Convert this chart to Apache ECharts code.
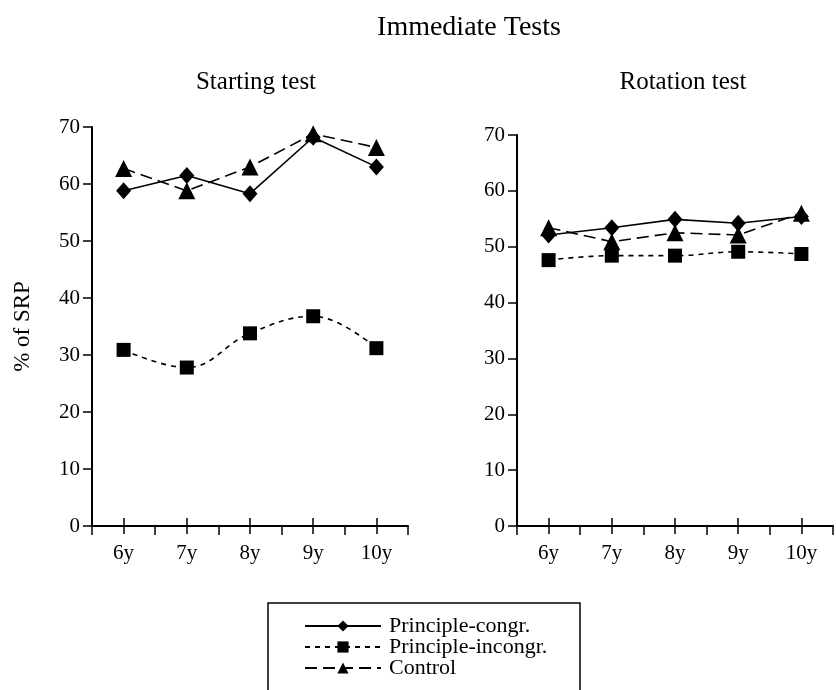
<!DOCTYPE html>
<html>
<head>
<meta charset="utf-8">
<script src="https://cdn.jsdelivr.net/npm/echarts@6/dist/echarts.min.js"></script>
<style>
  html, body { margin: 0; padding: 0; background: #fff; }
  #chart { width: 836px; height: 690px; }
</style>
</head>
<body>
<div id="chart"></div>
<script>
// ages on x axis
const ages = ['6y', '7y', '8y', '9y', '10y'];
const seriesNames = ['Principle-congr.', 'Principle-incongr.', 'Control'];

// Starting test
const startCongr = [58.8, 61.5, 58.3, 68.2, 63.0];
const startIncongr = [30.9, 27.8, 33.8, 36.8, 31.2];
const startControl = [62.7, 58.8, 63.0, 68.8, 66.4];

// Rotation test
const rotCongr = [52.1, 53.4, 54.9, 54.2, 55.4];
const rotIncongr = [47.6, 48.4, 48.4, 49.1, 48.7];
const rotControl = [53.4, 50.9, 52.5, 52.1, 56.0];

const FONT = '"Liberation Serif", "DejaVu Serif", serif';

const chart = echarts.init(document.getElementById('chart'));

function xAxes(gridIndex) {
  // labels + category ticks (down), boundary ticks (down), category ticks (up)
  return [
    {
      type: 'category', gridIndex, position: 'bottom', data: ages, boundaryGap: true,
      axisLine: { lineStyle: { color: '#000', width: 2 } },
      axisTick: { show: true, alignWithLabel: true, interval: 0, length: 8, lineStyle: { color: '#000', width: 1.5 } },
      axisLabel: { color: '#000', fontFamily: FONT, fontSize: 21, margin: 17 },
      splitLine: { show: false }
    },
    {
      type: 'category', gridIndex, position: 'bottom', data: ages, boundaryGap: true,
      axisLine: { show: false },
      axisTick: { show: true, alignWithLabel: false, interval: 0, length: 9, lineStyle: { color: '#000', width: 1.5 } },
      axisLabel: { show: false },
      splitLine: { show: false }
    },
    {
      type: 'category', gridIndex, position: 'bottom', data: ages, boundaryGap: true,
      axisLine: { show: false },
      axisTick: { show: true, inside: true, alignWithLabel: true, interval: 0, length: 8, lineStyle: { color: '#000', width: 1.5 } },
      axisLabel: { show: false },
      splitLine: { show: false }
    }
  ];
}

function yAxis(gridIndex, name) {
  return {
    type: 'value', gridIndex, min: 0, max: 70, interval: 10,
    name: name, nameLocation: 'middle', nameGap: 58, nameRotate: 90,
    nameTextStyle: { color: '#000', fontFamily: FONT, fontSize: 23 },
    axisLine: { show: true, lineStyle: { color: '#000', width: 2 } },
    axisTick: { show: true, length: 9, lineStyle: { color: '#000', width: 1.5 } },
    axisLabel: { color: '#000', fontFamily: FONT, fontSize: 21, margin: 12 },
    splitLine: { show: false }
  };
}

function lineSeries(name, data, xAxisIndex, yAxisIndex, symbol, size, dash, smooth) {
  return {
    name, type: 'line', data, xAxisIndex, yAxisIndex,
    symbol, symbolSize: size, smooth: smooth || false,
    color: '#000',
    itemStyle: { color: '#000' },
    lineStyle: { color: '#000', width: 1.6, type: dash },
    z: 3
  };
}

chart.setOption({
  backgroundColor: '#fff',
  animation: false,
  textStyle: { fontFamily: FONT },
  title: [
    { text: 'Immediate Tests', left: 464, top: 9, textAlign: 'center',
      textStyle: { fontFamily: FONT, fontSize: 28, fontWeight: 'normal', color: '#000' } },
    { text: 'Starting test', left: 251, top: 65, textAlign: 'center',
      textStyle: { fontFamily: FONT, fontSize: 25, fontWeight: 'normal', color: '#000' } },
    { text: 'Rotation test', left: 678, top: 65, textAlign: 'center',
      textStyle: { fontFamily: FONT, fontSize: 25, fontWeight: 'normal', color: '#000' } }
  ],
  grid: [
    { left: 92, top: 127, width: 316, bottom: 164 },
    { left: 517, top: 135, width: 316, bottom: 164 }
  ],
  xAxis: xAxes(0).concat(xAxes(1)),
  yAxis: [yAxis(0, '% of SRP'), yAxis(1, '')],
  legend: {
    data: seriesNames,
    orient: 'vertical',
    left: 299, top: 610,
    itemWidth: 76, itemHeight: 14, itemGap: -1,
    textStyle: { color: '#000', fontFamily: FONT, fontSize: 22, lineHeight: 22, padding: [0, 0, 0, 3] }
  },
  graphic: [
    { type: 'rect', shape: { x: 268, y: 603, width: 312, height: 100 },
      style: { fill: 'none', stroke: '#000', lineWidth: 1.5 } }
  ],
  series: [
    lineSeries(seriesNames[0], startCongr, 0, 0, 'diamond', [15, 17], 'solid'),
    lineSeries(seriesNames[1], startIncongr, 0, 0, 'rect', 14, [5, 5], 0.4),
    lineSeries(seriesNames[2], startControl, 0, 0, 'triangle', 17, [12, 6]),
    lineSeries(seriesNames[0], rotCongr, 3, 1, 'diamond', [15, 17], 'solid'),
    lineSeries(seriesNames[1], rotIncongr, 3, 1, 'rect', 14, [5, 5], 0.4),
    lineSeries(seriesNames[2], rotControl, 3, 1, 'triangle', 17, [12, 6])
  ]
});
</script>
</body>
</html>
